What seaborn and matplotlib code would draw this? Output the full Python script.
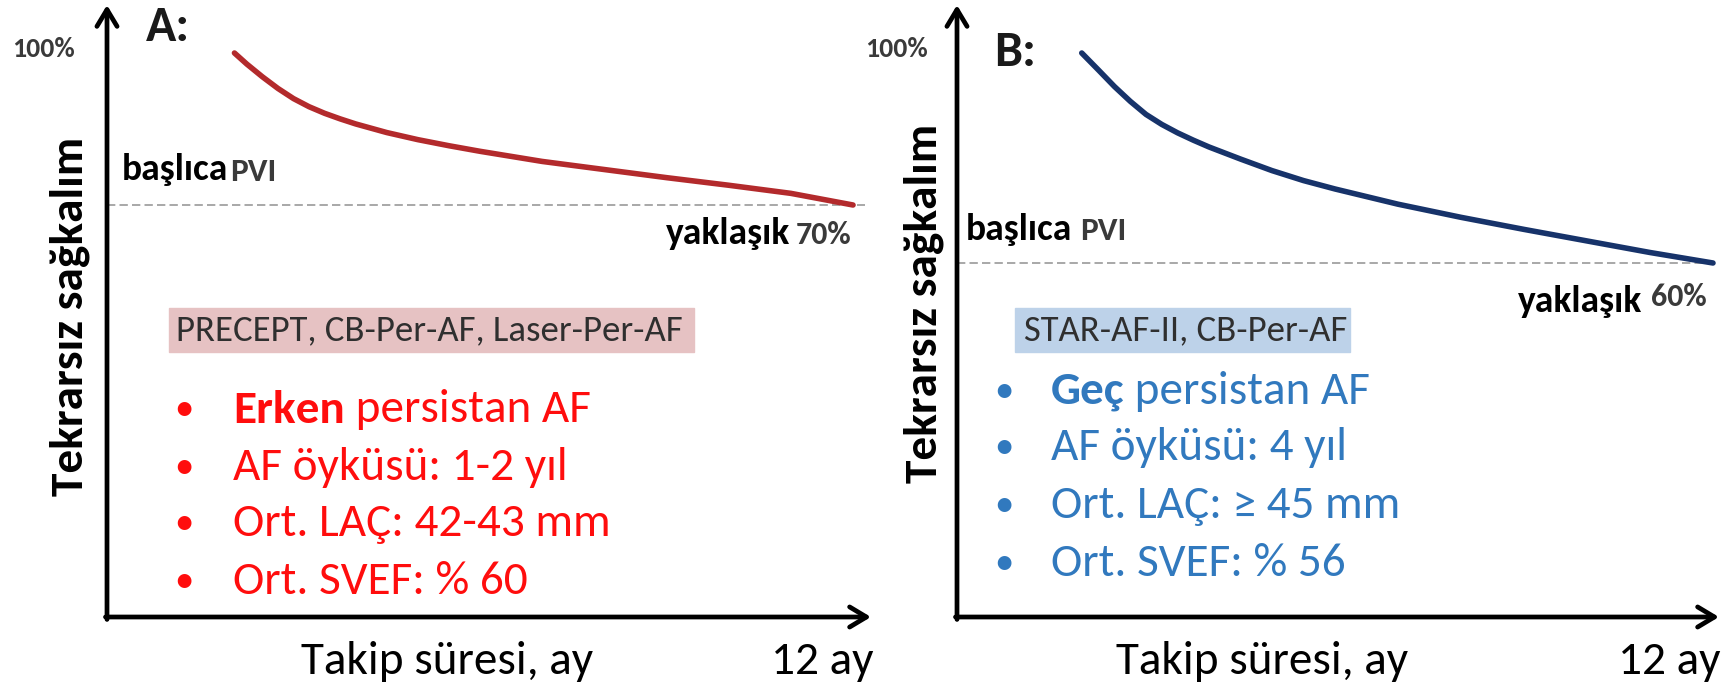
import numpy as np
import pandas as pd
import matplotlib
matplotlib.use("Agg")
import matplotlib.pyplot as plt
import seaborn as sns
from matplotlib import font_manager

# ---------------- data ----------------
months_a = [2.05, 2.25, 2.5, 2.75, 3.0, 3.25, 3.5, 3.75, 4.0, 4.5, 5.0, 5.5, 6.0,
            7.0, 8.0, 9.0, 10.0, 11.0, 12.0]
surv_a = [100.0, 97.8, 95.3, 93.0, 91.0, 89.4, 88.1, 87.0, 86.0, 84.3, 82.9, 81.7, 80.6,
          78.6, 77.0, 75.4, 73.9, 72.3, 70.0]
months_b = [1.98, 2.25, 2.5, 2.75, 3.0, 3.25, 3.5, 3.75, 4.0, 4.5, 5.0, 5.5, 6.0,
            7.0, 8.0, 9.0, 10.0, 11.0, 12.0]
surv_b = [100.0, 96.7, 93.6, 90.8, 88.3, 86.4, 84.8, 83.4, 82.1, 79.8, 77.6, 75.7, 74.1,
          71.2, 68.7, 66.4, 64.2, 62.0, 60.0]
plateau_a = 70
plateau_b = 60

panel_titles = ["A:", "B:"]
y_label = "Tekrarsız sağkalım"
x_label = "Takip süresi, ay"
x_end_label = "12 ay"
top_label = "100%"
pvi_word = ["başlıca", "PVI"]
approx_word = "yaklaşık"
plateau_labels = ["70%", "60%"]
trials = ["PRECEPT, CB-Per-AF, Laser-Per-AF", "STAR-AF-II, CB-Per-AF"]
bullets_a = [("Erken", " persistan AF"), ("", "AF öyküsü: 1-2 yıl"),
             ("", "Ort. LAÇ: 42-43 mm"), ("", "Ort. SVEF: % 60")]
bullets_b = [("Geç", " persistan AF"), ("", "AF öyküsü: 4 yıl"),
             ("", "Ort. LAÇ: ≥ 45 mm"), ("", "Ort. SVEF: % 56")]

# ---------------- style ----------------
sns.set_theme(style="white")
names = {f.name for f in font_manager.fontManager.ttflist}
main = "Carlito" if "Carlito" in names else "Lato"
plt.rcParams["font.family"] = [main, "DejaVu Sans"]

W, H = 1728, 688
fig = plt.figure(figsize=(W / 100, H / 100), dpi=100)
fig.patch.set_facecolor("white")

RED_LINE = "#b32a2c"
BLUE_LINE = "#17336a"
RED_TXT = "#ff0d0d"
BLUE_TXT = "#3179be"
PINK_BOX = "#e6c2c3"
BLUE_BOX = "#bdd2e9"
GRAY_TXT = "#3a3a3a"

BUL = 34      # bullet text size
AX_TXT = 34   # axis caption size


def T(x, y, s, **kw):
    kw.setdefault("va", "center")
    kw.setdefault("ha", "left")
    return fig.text(x / W, 1 - y / H, s, **kw)


def make_panel(x0, x1, ytop, ybot, xmax, ylim, months, surv, plateau, color, dash_end_px):
    ax = fig.add_axes([x0 / W, 1 - ybot / H, (x1 - x0) / W, (ybot - ytop) / H])
    ax.set_xlim(0, xmax)
    ax.set_ylim(*ylim)
    ax.axis("off")
    ax.plot([0, xmax * (dash_end_px - x0) / (x1 - x0)], [plateau, plateau],
            color="#9a9a9a", lw=1.2, ls=(0, (5, 2.5)), zorder=1)
    df = pd.DataFrame({"ay": months, "sagkalim": surv})
    sns.lineplot(data=df, x="ay", y="sagkalim", ax=ax, color=color, lw=4.0,
                 zorder=3, legend=False)
    ax.lines[-1].set_solid_capstyle("round")
    ax.lines[-1].set_solid_joinstyle("round")
    arrow = dict(arrowstyle="->,head_length=0.55,head_width=0.33", lw=3.4,
                 color="black", shrinkA=0, shrinkB=0, mutation_scale=22)
    ax.annotate("", xy=(0, 1), xytext=(0, -0.004), xycoords="axes fraction",
                arrowprops=arrow, annotation_clip=False)
    ax.annotate("", xy=(1, 0), xytext=(-0.002, 0), xycoords="axes fraction",
                arrowprops=arrow, annotation_clip=False)
    return ax


# Panel A: 100% at y=53px, 70% at y=205px; 12 months at x=853px
make_panel(107, 871, 5, 617, 764 / 62.17, (100 - 564 / 5.067, 100 + 48 / 5.067),
           months_a, surv_a, plateau_a, RED_LINE, 865)
# Panel B: 100% at y=53px, 60% at y=263px; 12 months at x=1713px
make_panel(957, 1719, 5, 617, 762 / 63.0, (100 - 564 / 5.25, 100 + 48 / 5.25),
           months_b, surv_b, plateau_b, BLUE_LINE, 1712)

renderer = fig.canvas.get_renderer()


def mixed(x, y, bold, rest, color, size):
    if bold:
        t = T(x, y, bold, color=color, fontsize=size, fontweight="bold")
        bb = t.get_window_extent(renderer)
        T(bb.x1, y, rest, color=color, fontsize=size)
    else:
        T(x, y, rest, color=color, fontsize=size)


# ---- Panel A texts ----
T(12, 49, top_label, fontsize=20, fontweight="bold", color=GRAY_TXT)
T(146, 27, panel_titles[0], fontsize=36, fontweight="bold", color="#1a1a1a")
T(70, 316, y_label, fontsize=34, fontweight="bold", color="black", rotation=90, ha="center")
T(122, 170, pvi_word[0], fontsize=27, fontweight="bold", color="black")
T(230, 172, pvi_word[1], fontsize=24, fontweight="bold", color=GRAY_TXT)
T(666, 233, approx_word, fontsize=27, fontweight="bold", color="black")
T(796, 235, plateau_labels[0], fontsize=23, fontweight="bold", color=GRAY_TXT)
fig.patches.append(plt.Rectangle((169 / W, 1 - 352 / H), (694 - 169) / W, 44 / H,
                                 transform=fig.transFigure, color=PINK_BOX, zorder=0))
T(176, 330, trials[0], fontsize=26.5, color="#2f2f2f")
for i, (b, r) in enumerate(bullets_a):
    y = [410, 467, 523, 581][i]
    T(174, y, "•", fontsize=28, color=RED_TXT)
    mixed(233, y, b, r, RED_TXT, BUL)
T(301, 661, x_label, fontsize=AX_TXT, color="black")
T(873, 661, x_end_label, fontsize=AX_TXT, color="black", ha="right")

# ---- Panel B texts ----
T(865, 49, top_label, fontsize=20, fontweight="bold", color=GRAY_TXT)
T(994, 52, panel_titles[1], fontsize=36, fontweight="bold", color="#1a1a1a")
T(924, 303, y_label, fontsize=34, fontweight="bold", color="black", rotation=90, ha="center")
T(966, 230, pvi_word[0], fontsize=27, fontweight="bold", color="black")
T(1080, 231, pvi_word[1], fontsize=24, fontweight="bold", color=GRAY_TXT)
T(1518, 302, approx_word, fontsize=27, fontweight="bold", color="black")
T(1651, 297, plateau_labels[1], fontsize=23, fontweight="bold", color=GRAY_TXT)
fig.patches.append(plt.Rectangle((1015 / W, 1 - 352 / H), (1350 - 1015) / W, 44 / H,
                                 transform=fig.transFigure, color=BLUE_BOX, zorder=0))
T(1024, 330, trials[1], fontsize=26.5, color="#2f2f2f")
for i, (b, r) in enumerate(bullets_b):
    y = [391, 448, 506, 563][i]
    T(994, y, "•", fontsize=28, color=BLUE_TXT)
    mixed(1051, y, b, r, BLUE_TXT, BUL)
T(1116, 661, x_label, fontsize=AX_TXT, color="black")
T(1721, 661, x_end_label, fontsize=AX_TXT, color="black", ha="right")

fig.savefig("out.png", dpi=100, facecolor="white")
